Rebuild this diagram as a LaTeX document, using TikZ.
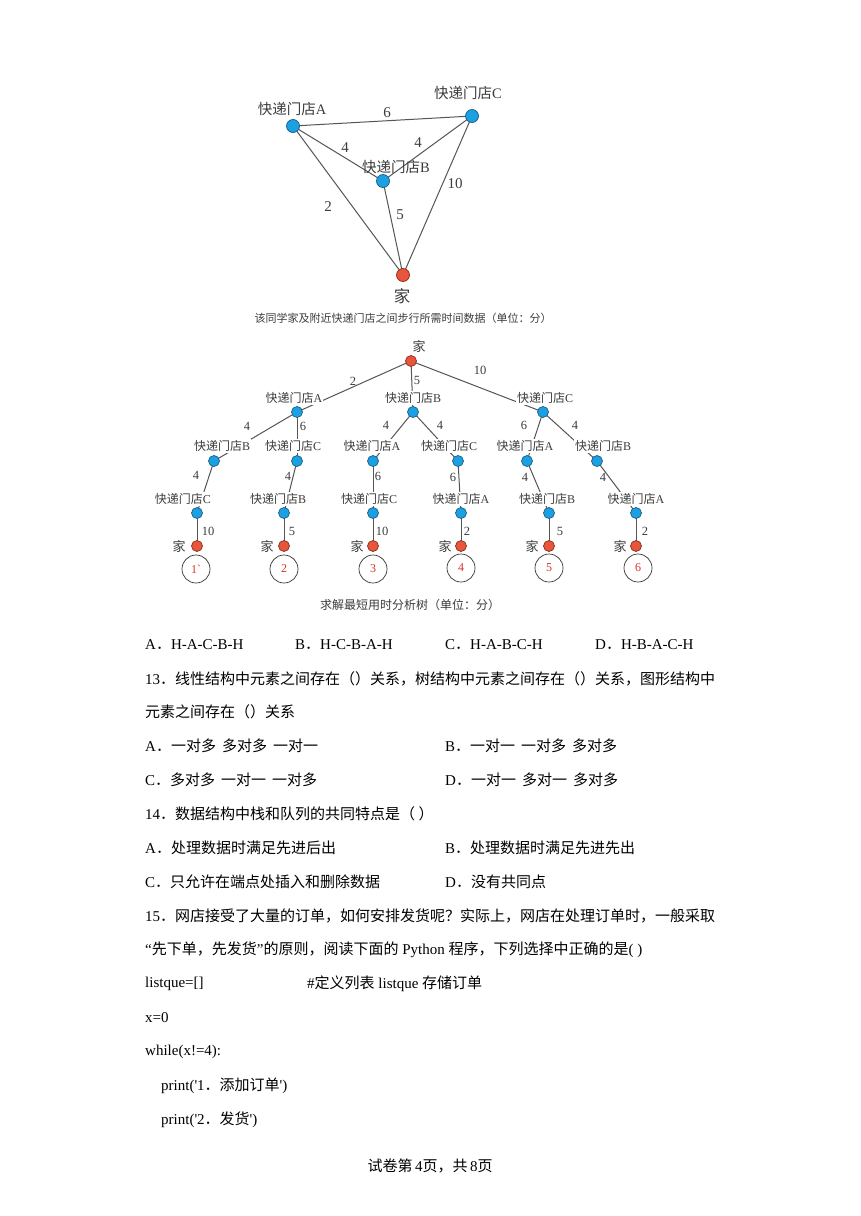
\documentclass[tikz,border=0pt]{standalone}
\usepackage{fontspec}
\setmainfont{Liberation Serif}
\newfontfamily\cjk{Noto Sans CJK SC}
\usetikzlibrary{calc}
\newcommand\zh[1]{{\cjk #1}}
\definecolor{nblue}{HTML}{1BA0E1}
\definecolor{nblueD}{HTML}{1D5C86}
\definecolor{nred}{HTML}{E6553C}
\definecolor{nredD}{HTML}{8E2B1B}
\definecolor{dtext}{HTML}{3C3C3C}
\definecolor{dline}{HTML}{555555}
\definecolor{numred}{HTML}{D9342B}
\tikzset{
  bn/.style={circle, fill=nblue, draw=nblueD, line width=0.7pt, minimum size=11pt, inner sep=0pt},
  rn/.style={circle, fill=nred, draw=nredD, line width=0.7pt, minimum size=11pt, inner sep=0pt},
  bignode/.style={minimum size=13pt},
  ln/.style={draw=dline, line width=1pt},
  glbl/.style={text=dtext, inner sep=1pt, font=\fontsize{14.5}{16}\selectfont},
  gnum/.style={text=dtext, inner sep=0pt, font=\fontsize{15}{16}\selectfont},
  tlbl/.style={text=dtext, fill=white, inner sep=1pt, font=\fontsize{12}{14}\selectfont},
  tnum/.style={text=dtext, inner sep=0pt, font=\fontsize{12.5}{14}\selectfont},
  capt/.style={text=dtext, inner sep=0pt, font=\cjk\fontsize{11}{13}\selectfont},
  ringnode/.style={circle, draw=black!80, line width=0.7pt, minimum size=28pt, inner sep=0pt, text=numred, font=\fontsize{12}{14}\selectfont},
  txt/.style={anchor=west, inner sep=0pt, font=\fontsize{15}{18}\selectfont},
}
\begin{document}
\begin{tikzpicture}[x=1pt,y=-1pt]
\fill[white] (0,0) rectangle (860,1216);
\useasboundingbox (0,0) rectangle (860,1216);

% ---------- top graph ----------
\coordinate (pA) at (293,126);
\coordinate (pB) at (383,181);
\coordinate (pC) at (472,116);
\coordinate (pH) at (403,275);
\draw[ln] (pA) -- (pC);
\draw[ln] (pA) -- (pB);
\draw[ln] (pB) -- (pC);
\draw[ln] (pA) -- (pH);
\draw[ln] (pB) -- (pH);
\draw[ln] (pC) -- (pH);
\node[bn,bignode] (gA) at (pA) {};
\node[bn,bignode] (gB) at (pB) {};
\node[bn,bignode] (gC) at (pC) {};
\node[rn,bignode] (gH) at (pH) {};
\node[glbl] (tA) at (292,109) {\zh{快递门店}A};
\node[glbl] (tC) at (468,93) {\zh{快递门店}C};
\node[glbl] (tB) at (396,167) {\zh{快递门店}B};
\node[glbl, font=\fontsize{16.5}{18}\selectfont] (tH) at (402,296) {\zh{家}};
\node[gnum] (g1) at (387,113) {6};
\node[gnum] (g2) at (345,148) {4};
\node[gnum] (g3) at (418,143) {4};
\node[gnum] (g4) at (328,207) {2};
\node[gnum] (g5) at (400,215) {5};
\node[gnum] (g6) at (455,184) {10};
\node[capt] (cap1) at (403,318) {该同学家及附近快递门店之间步行所需时间数据（单位：分）};

% ---------- tree ----------
\coordinate (r) at (411,361);
\coordinate (a) at (297,412);
\coordinate (b) at (413,412);
\coordinate (c) at (543,412);
\coordinate (ab) at (214,461);
\coordinate (ac) at (297,461);
\coordinate (ba) at (373,461);
\coordinate (bc) at (458,461);
\coordinate (ca) at (527,461);
\coordinate (cb) at (597,461);
\coordinate (abc) at (197,513);
\coordinate (acb) at (284,513);
\coordinate (bac) at (373,513);
\coordinate (bca) at (461,513);
\coordinate (cab) at (549,513);
\coordinate (cba) at (636,513);
\coordinate (h1) at (197,546);
\coordinate (h2) at (284,546);
\coordinate (h3) at (373,546);
\coordinate (h4) at (461,546);
\coordinate (h5) at (549,546);
\coordinate (h6) at (636,546);

\draw[ln] (r) -- (a);
\draw[ln] (r) -- (b);
\draw[ln] (r) -- (c);
\draw[ln] (a) -- (ab);
\draw[ln] (a) -- (ac);
\draw[ln] (b) -- (ba);
\draw[ln] (b) -- (bc);
\draw[ln] (c) -- (ca);
\draw[ln] (c) -- (cb);
\draw[ln] (ab) -- (abc);
\draw[ln] (ac) -- (acb);
\draw[ln] (ba) -- (bac);
\draw[ln] (bc) -- (bca);
\draw[ln] (ca) -- (cab);
\draw[ln] (cb) -- (cba);
\draw[ln] (abc) -- (h1);
\draw[ln] (acb) -- (h2);
\draw[ln] (bac) -- (h3);
\draw[ln] (bca) -- (h4);
\draw[ln] (cab) -- (h5);
\draw[ln] (cba) -- (h6);

% labels (white background, over the edges)
\node[tlbl, fill=none, font=\fontsize{13}{14}\selectfont] (lr) at (419,346) {\zh{家}};
\node[tlbl] (la) at (294,398) {\zh{快递门店}A};
\node[tlbl] (lb) at (413,398) {\zh{快递门店}B};
\node[tlbl] (lc) at (545,398) {\zh{快递门店}C};
\node[tlbl] (lab) at (222,446) {\zh{快递门店}B};
\node[tlbl] (lac) at (293,446) {\zh{快递门店}C};
\node[tlbl] (lba) at (372,446) {\zh{快递门店}A};
\node[tlbl] (lbc) at (449,446) {\zh{快递门店}C};
\node[tlbl] (lca) at (525,446) {\zh{快递门店}A};
\node[tlbl] (lcb) at (603,446) {\zh{快递门店}B};
\node[tlbl] (labc) at (183,499) {\zh{快递门店}C};
\node[tlbl] (lacb) at (278,499) {\zh{快递门店}B};
\node[tlbl] (lbac) at (369,499) {\zh{快递门店}C};
\node[tlbl] (lbca) at (461,499) {\zh{快递门店}A};
\node[tlbl] (lcab) at (547,499) {\zh{快递门店}B};
\node[tlbl] (lcba) at (636,499) {\zh{快递门店}A};
\node[tlbl, fill=none, font=\fontsize{13}{14}\selectfont] (lh1) at (179,546) {\zh{家}};
\node[tlbl, fill=none, font=\fontsize{13}{14}\selectfont] (lh2) at (267,546) {\zh{家}};
\node[tlbl, fill=none, font=\fontsize{13}{14}\selectfont] (lh3) at (357,546) {\zh{家}};
\node[tlbl, fill=none, font=\fontsize{13}{14}\selectfont] (lh4) at (445,546) {\zh{家}};
\node[tlbl, fill=none, font=\fontsize{13}{14}\selectfont] (lh5) at (532,546) {\zh{家}};
\node[tlbl, fill=none, font=\fontsize{13}{14}\selectfont] (lh6) at (620,546) {\zh{家}};

% nodes
\node[rn] (nr) at (r) {};
\node[bn] (na) at (a) {};
\node[bn] (nb) at (b) {};
\node[bn] (nc) at (c) {};
\node[bn] (nab) at (ab) {};
\node[bn] (nac) at (ac) {};
\node[bn] (nba) at (ba) {};
\node[bn] (nbc) at (bc) {};
\node[bn] (nca) at (ca) {};
\node[bn] (ncb) at (cb) {};
\node[bn] (nabc) at (abc) {};
\node[bn] (nacb) at (acb) {};
\node[bn] (nbac) at (bac) {};
\node[bn] (nbca) at (bca) {};
\node[bn] (ncab) at (cab) {};
\node[bn] (ncba) at (cba) {};
\node[rn] (nh1) at (h1) {};
\node[rn] (nh2) at (h2) {};
\node[rn] (nh3) at (h3) {};
\node[rn] (nh4) at (h4) {};
\node[rn] (nh5) at (h5) {};
\node[rn] (nh6) at (h6) {};

% edge weights
\node[tnum] (w1) at (353,381) {2};
\node[tnum] (w2) at (417,380) {5};
\node[tnum] (w3) at (480,370) {10};
\node[tnum] (w4) at (247,426) {4};
\node[tnum] (w5) at (303,426) {6};
\node[tnum] (w6) at (386,425) {4};
\node[tnum] (w7) at (440,425) {4};
\node[tnum] (w8) at (524,425) {6};
\node[tnum] (w9) at (575,425) {4};
\node[tnum] (w10) at (196,475) {4};
\node[tnum] (w11) at (288,476) {4};
\node[tnum] (w12) at (378,476) {6};
\node[tnum] (w13) at (453,477) {6};
\node[tnum] (w14) at (525,477) {4};
\node[tnum] (w15) at (603,477) {4};
\node[tnum] (w16) at (208,531) {10};
\node[tnum] (w17) at (292,531) {5};
\node[tnum] (w18) at (382,531) {10};
\node[tnum] (w19) at (467,531) {2};
\node[tnum] (w20) at (560,531) {5};
\node[tnum] (w21) at (645,531) {2};

% result rings
\node[ringnode] (c1) at (196,569) {1\textasciigrave};
\node[ringnode] (c2) at (284,569) {2};
\node[ringnode] (c3) at (373,569) {3};
\node[ringnode] (c4) at (461,568) {4};
\node[ringnode] (c5) at (549,568) {5};
\node[ringnode] (c6) at (638,568) {6};
\node[capt, font=\cjk\fontsize{12}{14}\selectfont] (cap2) at (410,605) {求解最短用时分析树（单位：分）};

% ---------- text ----------
\node[txt] (o1) at (145,645) {A\zh{．}H-A-C-B-H};
\node[txt] (o2) at (295,645) {B\zh{．}H-C-B-A-H};
\node[txt] (o3) at (445,645) {C\zh{．}H-A-B-C-H};
\node[txt] (o4) at (595,645) {D\zh{．}H-B-A-C-H};
\node[txt] (q13a) at (145,679) {13\zh{．线性结构中元素之间存在（）关系，树结构中元素之间存在（）关系，图形结构中}};
\node[txt] (q13b) at (145,712) {\zh{元素之间存在（）关系}};
\node[txt] (q13A) at (145,746) {A\zh{．一对多\hspace{6pt}多对多\hspace{6pt}一对一}};
\node[txt] (q13B) at (445,746) {B\zh{．一对一\hspace{6pt}一对多\hspace{6pt}多对多}};
\node[txt] (q13C) at (145,780) {C\zh{．多对多\hspace{6pt}一对一\hspace{6pt}一对多}};
\node[txt] (q13D) at (445,780) {D\zh{．一对一\hspace{6pt}多对一\hspace{6pt}多对多}};
\node[txt] (q14) at (145,814) {14\zh{．数据结构中栈和队列的共同特点是（ ）}};
\node[txt] (q14A) at (145,848) {A\zh{．处理数据时满足先进后出}};
\node[txt] (q14B) at (445,848) {B\zh{．处理数据时满足先进先出}};
\node[txt] (q14C) at (145,882) {C\zh{．只允许在端点处插入和删除数据}};
\node[txt] (q14D) at (445,882) {D\zh{．没有共同点}};
\node[txt] (q15a) at (145,916) {15\zh{．网店接受了大量的订单，如何安排发货呢？实际上，网店在处理订单时，一般采取}};
\node[txt] (q15b) at (145,950) {“\zh{先下单，先发货}”\zh{的原则，阅读下面的} Python \zh{程序，下列选择中正确的是}(\ )};
\node[txt] (c01) at (145,984) {listque=[]};
\node[txt] (c01c) at (307,984) {\#\zh{定义列表} listque \zh{存储订单}};
\node[txt] (c02) at (145,1018) {x=0};
\node[txt] (c03) at (145,1052) {while(x!=4):};
\node[txt] (c04) at (161,1086) {print(\textquotesingle1\zh{．添加订单}\textquotesingle)};
\node[txt] (c05) at (161,1120) {print(\textquotesingle2\zh{．发货}\textquotesingle)};
\node[txt, anchor=center] (foot) at (430,1166) {\zh{试卷第}\,4\zh{页，共}\,8\zh{页}};
\end{tikzpicture}
\end{document}
